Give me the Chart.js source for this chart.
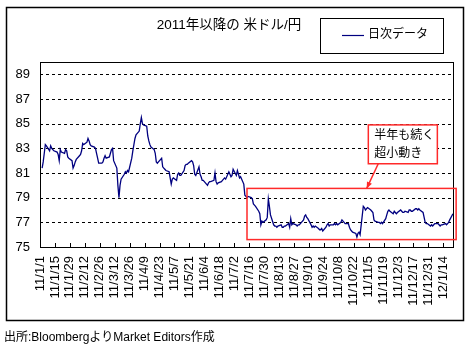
<!DOCTYPE html>
<html>
<head>
<meta charset="utf-8">
<script src="https://cdn.jsdelivr.net/npm/chart.js@4"></script>
<style>
  body { margin: 0; background: #fff; }
  canvas { display: block; }
</style>
</head>
<body>
<canvas id="lineChart" width="469" height="352"></canvas>
<script>
// daily USD/JPY closes (business days from 2011-01-03)
var firstDate = "2011-01-03";
var usdJpy = [
  81.4, 81.9, 82.6, 83.3, 83.2,  82.8, 83.2, 83.0, 82.9, 82.8,
  82.7, 82.5, 82.0, 82.9, 82.7,  82.6, 82.9, 82.8, 82.3, 82.2,
  82.0, 81.4, 81.6, 81.9, 82.1,  82.4, 82.5, 82.8, 83.4, 83.3,
  83.5, 83.8, 83.6, 83.3, 83.2,  83.1, 83.0, 82.6, 82.2, 81.8,
  81.8, 81.9, 82.2, 82.4, 82.2,  82.3, 82.6, 82.9, 83.0, 82.0,
  81.4, 80.0, 79.0, 80.0, 80.5,  80.9, 81.1, 81.0, 81.2, 81.1,
  82.2, 82.8, 83.3, 83.8, 84.1,  84.4, 85.0, 85.5, 85.0, 84.9,
  84.8, 84.0, 83.6, 83.3, 83.1,  82.9, 82.6, 81.9, 81.8, 81.9,
  82.2, 81.5, 81.4, 81.3, 81.2,  81.1, 80.6, 80.1, 80.5, 80.6,
  80.4, 80.9, 81.0, 80.8, 80.8,  81.2, 81.6, 81.7, 81.7, 81.8,
  82.0, 81.9, 81.6, 80.9, 80.8,  81.5, 80.9, 80.7, 80.4, 80.4,
  80.1, 80.0, 80.2, 80.3, 80.3,  80.4, 81.0, 80.3, 80.1, 80.2,
  80.3, 80.4, 80.5, 80.6, 80.5,  81.1, 80.9, 80.7, 80.8, 81.3,
  80.8, 81.2, 80.9, 80.6, 80.7,  80.1, 79.2, 79.1, 79.0, 79.1,
  79.0, 78.9, 78.5, 78.4, 78.3,  77.9, 77.7, 76.8, 77.1, 77.0,
  77.2, 77.4, 78.9, 78.3, 77.6,  76.8, 76.7, 76.7, 76.6, 76.7,
  76.8, 76.6, 76.6, 76.7, 76.7,  76.9, 76.6, 77.3, 76.8, 76.9,
  76.8, 76.7, 76.8, 76.8, 76.9,  77.2, 77.5, 77.6, 77.4, 77.3,
  76.8, 76.6, 76.7, 76.6, 76.7,  76.5, 76.4, 76.4, 76.5, 76.3,
  76.6, 76.8, 76.9, 76.7, 76.8,  76.8, 76.9, 76.8, 76.9, 76.8,
  77.0, 77.2, 77.1, 77.0, 76.9,  76.9, 76.6, 76.4, 76.3, 76.2,
  76.1, 75.8, 76.1, 76.2, 76.0,  78.3, 78.2, 78.0, 78.1, 78.2,
  78.0, 77.9, 77.8, 77.2, 77.1,  77.0, 77.0, 76.9, 77.0, 76.9,
  77.3, 77.6, 77.9, 78.0, 77.9,  77.7, 77.9, 77.8, 77.7, 77.8,
  78.0, 77.9, 77.8, 77.8, 77.9,  77.8, 78.0, 78.0, 77.9, 77.9,
  78.1, 78.1, 78.0, 78.1, 78.0,  77.8, 77.4, 77.0, 76.9, 76.9,
  76.7, 76.8, 76.7, 76.8, 76.9,  76.9, 76.8, 76.7, 76.8, 76.8,
  76.9, 76.8, 76.9, 77.0, 77.2,  77.7
];

var xTickLabels = [
  "11/1/1", "11/1/15", "11/1/29", "11/2/12", "11/2/26", "11/3/12", "11/3/26",
  "11/4/9", "11/4/23", "11/5/7", "11/5/21", "11/6/4", "11/6/18", "11/7/2",
  "11/7/16", "11/7/30", "11/8/13", "11/8/27", "11/9/10", "11/9/24", "11/10/8",
  "11/10/22", "11/11/5", "11/11/19", "11/12/3", "11/12/17", "11/12/31", "12/1/14"
];
var yTickLabels = [75, 77, 79, 81, 83, 85, 87, 89];

var titleText = "2011年以降の 米ドル/円";
var legendText = "日次データ";
var sourceText = "出所:BloombergよりMarket Editors作成";
var noteLines = ["半年も続く", "超小動き"];

var FONT = "'Liberation Sans', 'Noto Sans CJK JP', sans-serif";
var LINE = "#000080";
var RED = "#ff2a2a";

// x axis runs in calendar days from 2011-01-01
var origin = Date.UTC(2011, 0, 1);
var points = [];
var d = new Date(firstDate + "T00:00:00Z");
for (var i = 0; i < usdJpy.length; i++) {
  while (d.getUTCDay() === 0 || d.getUTCDay() === 6) d.setUTCDate(d.getUTCDate() + 1);
  points.push({ x: (d.getTime() - origin) / 86400000, y: usdJpy[i] });
  d.setUTCDate(d.getUTCDate() + 1);
}

// dashed horizontal grid, drawn under the line
var dashedGrid = {
  id: "dashedGrid",
  beforeDatasetsDraw: function (chart) {
    var ctx = chart.ctx;
    var a = chart.chartArea;
    var ys = chart.scales.y;
    ctx.save();
    ctx.strokeStyle = "#000";
    ctx.lineWidth = 1;
    ctx.setLineDash([3, 3]);
    ctx.beginPath();
    ys.ticks.forEach(function (t) {
      if (t.value === 75) return;
      var py = Math.round(ys.getPixelForValue(t.value)) + 0.5;
      ctx.moveTo(a.left, py);
      ctx.lineTo(a.right, py);
    });
    ctx.stroke();
    ctx.restore();
  }
};

var decorations = {
  id: "decorations",
  afterDraw: function (chart) {
    var ctx = chart.ctx;
    var a = chart.chartArea;
    var xs = chart.scales.x;
    var ys = chart.scales.y;
    ctx.save();

    // plot frame
    ctx.strokeStyle = "#000";
    ctx.lineWidth = 1;
    ctx.strokeRect(a.left + 0.5, a.top + 0.5, a.right - a.left - 1, a.bottom - a.top);

    // inner tick marks on the x axis
    ctx.beginPath();
    xs.ticks.forEach(function (t) {
      var px = Math.round(xs.getPixelForValue(t.value)) + 0.5;
      ctx.moveTo(px, a.bottom);
      ctx.lineTo(px, a.bottom - 4);
    });
    ctx.stroke();

    // outer frame
    ctx.lineWidth = 1.5;
    ctx.strokeRect(6.5, 7.5, 457, 313);

    // title
    ctx.fillStyle = "#000";
    ctx.font = "13.5px " + FONT;
    ctx.textAlign = "center";
    ctx.textBaseline = "middle";
    ctx.fillText(titleText, 229, 25);

    // legend box
    ctx.lineWidth = 1;
    ctx.strokeRect(320.5, 18.5, 123, 35);
    ctx.strokeStyle = LINE;
    ctx.lineWidth = 1.2;
    ctx.beginPath();
    ctx.moveTo(342, 35.5);
    ctx.lineTo(364, 35.5);
    ctx.stroke();
    ctx.font = "12px " + FONT;
    ctx.textAlign = "left";
    ctx.fillText(legendText, 368, 35);

    // source note
    ctx.font = "12px " + FONT;
    ctx.fillText(sourceText, 4, 338);

    // red annotation: flat range box
    ctx.strokeStyle = RED;
    ctx.lineWidth = 1.5;
    var bx1 = xs.getPixelForValue(194), bx2 = xs.getPixelForValue(390);
    var by1 = ys.getPixelForValue(79.75), by2 = ys.getPixelForValue(75.6);
    ctx.strokeRect(bx1, by1, bx2 - bx1, by2 - by1);

    // callout box
    var cx1 = xs.getPixelForValue(307.7), cx2 = xs.getPixelForValue(372.4);
    var cy1 = ys.getPixelForValue(84.9), cy2 = ys.getPixelForValue(81.75);
    ctx.fillStyle = "#fff";
    ctx.fillRect(cx1, cy1, cx2 - cx1, cy2 - cy1);
    ctx.strokeRect(cx1, cy1, cx2 - cx1, cy2 - cy1);
    ctx.fillStyle = "#000";
    ctx.font = "12px " + FONT;
    ctx.fillText(noteLines[0], cx1 + 6, cy1 + 11);
    ctx.fillText(noteLines[1], cx1 + 6, cy1 + 29);

    // arrow from callout to box
    var ax1 = xs.getPixelForValue(317), ay1 = cy2;
    var ax2 = xs.getPixelForValue(306.2), ay2 = by1;
    ctx.beginPath();
    ctx.moveTo(ax1, ay1);
    ctx.lineTo(ax2, ay2);
    ctx.stroke();
    var ang = Math.atan2(ay2 - ay1, ax2 - ax1);
    ctx.fillStyle = RED;
    ctx.beginPath();
    ctx.moveTo(ax2, ay2);
    ctx.lineTo(ax2 - 7 * Math.cos(ang - 0.4), ay2 - 7 * Math.sin(ang - 0.4));
    ctx.lineTo(ax2 - 7 * Math.cos(ang + 0.4), ay2 - 7 * Math.sin(ang + 0.4));
    ctx.closePath();
    ctx.fill();

    ctx.restore();
  }
};

var ctx = document.getElementById("lineChart").getContext("2d");
var myChart = new Chart(ctx, {
  type: "line",
  data: {
    datasets: [
      {
        label: legendText,
        data: points,
        borderColor: LINE,
        borderWidth: 1.3,
        pointRadius: 0,
        tension: 0,
        fill: false,
      },
    ],
  },
  options: {
    responsive: false,
    animation: false,
    layout: { padding: { top: 62, right: 15, left: 0, bottom: 0 } },
    plugins: {
      legend: { display: false },
      title: { display: false },
      tooltip: { enabled: false },
    },
    scales: {
      x: {
        type: "linear",
        min: 0,
        max: 388,
        afterBuildTicks: function (scale) {
          scale.ticks = xTickLabels.map(function (_, i) { return { value: i * 14 }; });
        },
        afterFit: function (scale) { scale.height = 105; },
        grid: { display: false, drawTicks: false },
        border: { display: false },
        ticks: {
          autoSkip: false,
          minRotation: 90,
          maxRotation: 90,
          padding: 9,
          color: "#000",
          font: { family: FONT, size: 13 },
          callback: function (v, i) { return xTickLabels[i]; },
        },
      },
      y: {
        min: 75,
        max: 90,
        afterBuildTicks: function (scale) {
          scale.ticks = yTickLabels.map(function (v) { return { value: v }; });
        },
        afterFit: function (scale) { scale.width = 40; },
        grid: { display: false, drawTicks: false },
        border: { display: false },
        ticks: {
          padding: 10,
          color: "#000",
          font: { family: FONT, size: 13 },
        },
      },
    },
  },
  plugins: [dashedGrid, decorations],
});
</script>
</body>
</html>
